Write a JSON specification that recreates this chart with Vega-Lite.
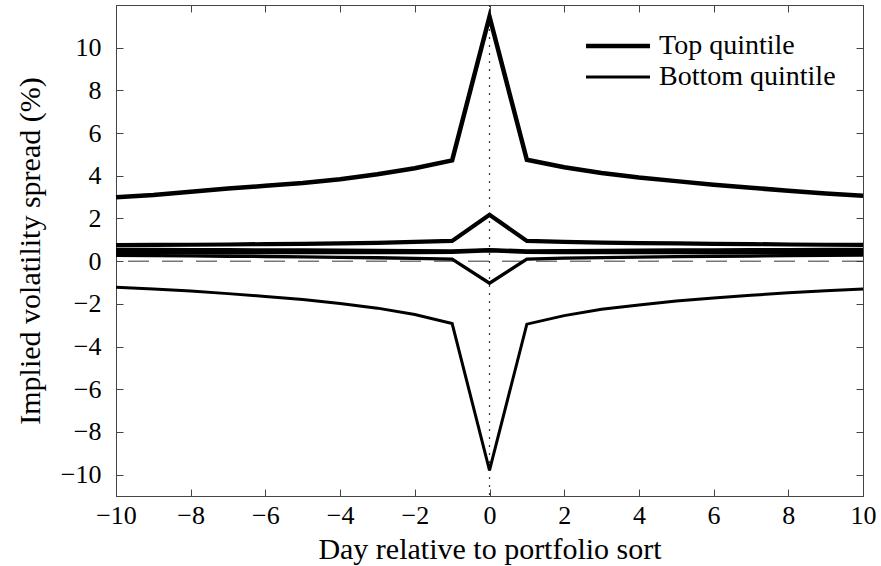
{
  "$schema": "https://vega.github.io/schema/vega-lite/v6.json",
  "autosize": "none",
  "width": 747,
  "height": 491,
  "padding": {"left": 116, "top": 5, "right": 18, "bottom": 70},
  "background": "white",
  "config": {
    "font": "Liberation Serif, DejaVu Serif, serif",
    "view": {"stroke": "#444"},
    "axis": {
      "labelFont": "Liberation Serif, DejaVu Serif, serif",
      "labelFontSize": 26,
      "labelColor": "black",
      "titleFont": "Liberation Serif, DejaVu Serif, serif",
      "titleFontSize": 30,
      "titleFontWeight": "normal",
      "titleColor": "black",
      "domainColor": "#444",
      "tickColor": "#444",
      "tickSize": -7,
      "grid": false
    },
    "legend": {
      "labelFont": "Liberation Serif, DejaVu Serif, serif",
      "labelFontSize": 28,
      "labelColor": "black",
      "labelLimit": 400
    }
  },
  "layer": [
    {
      "data": {"values": [{"v": 0}]},
      "mark": {"type": "rule", "color": "#333", "strokeWidth": 1, "strokeDash": [21, 13]},
      "encoding": {
        "y": {"field": "v", "type": "quantitative", "scale": {"domain": [-11, 12], "nice": false},
          "axis": {"orient": "right", "labels": false, "title": null, "values": [-10, -8, -6, -4, -2, 0, 2, 4, 6, 8, 10]}}
      }
    },
    {
      "data": {"values": [{"v": 0}]},
      "mark": {"type": "rule", "color": "#333", "strokeWidth": 1.2, "strokeDash": [2, 6]},
      "encoding": {
        "x": {"field": "v", "type": "quantitative", "scale": {"domain": [-10, 10], "nice": false},
          "axis": {"orient": "top", "labels": false, "title": null, "values": [-10, -8, -6, -4, -2, 0, 2, 4, 6, 8, 10]}}
      }
    },
    {
      "data": {"values": [
        {"s": "Top quintile", "d": -10, "y": 3.0}, {"s": "Top quintile", "d": -9, "y": 3.1}, {"s": "Top quintile", "d": -8, "y": 3.25}, {"s": "Top quintile", "d": -7, "y": 3.4}, {"s": "Top quintile", "d": -6, "y": 3.53}, {"s": "Top quintile", "d": -5, "y": 3.66}, {"s": "Top quintile", "d": -4, "y": 3.84}, {"s": "Top quintile", "d": -3, "y": 4.07}, {"s": "Top quintile", "d": -2, "y": 4.35}, {"s": "Top quintile", "d": -1, "y": 4.72}, {"s": "Top quintile", "d": 0, "y": 11.45}, {"s": "Top quintile", "d": 1, "y": 4.75}, {"s": "Top quintile", "d": 2, "y": 4.4}, {"s": "Top quintile", "d": 3, "y": 4.13}, {"s": "Top quintile", "d": 4, "y": 3.92}, {"s": "Top quintile", "d": 5, "y": 3.75}, {"s": "Top quintile", "d": 6, "y": 3.58}, {"s": "Top quintile", "d": 7, "y": 3.44}, {"s": "Top quintile", "d": 8, "y": 3.3}, {"s": "Top quintile", "d": 9, "y": 3.17}, {"s": "Top quintile", "d": 10, "y": 3.07},
        {"s": "Top quintile 2", "d": -10, "y": 0.75}, {"s": "Top quintile 2", "d": -9, "y": 0.76}, {"s": "Top quintile 2", "d": -8, "y": 0.77}, {"s": "Top quintile 2", "d": -7, "y": 0.78}, {"s": "Top quintile 2", "d": -6, "y": 0.8}, {"s": "Top quintile 2", "d": -5, "y": 0.81}, {"s": "Top quintile 2", "d": -4, "y": 0.83}, {"s": "Top quintile 2", "d": -3, "y": 0.86}, {"s": "Top quintile 2", "d": -2, "y": 0.9}, {"s": "Top quintile 2", "d": -1, "y": 0.95}, {"s": "Top quintile 2", "d": 0, "y": 2.17}, {"s": "Top quintile 2", "d": 1, "y": 0.95}, {"s": "Top quintile 2", "d": 2, "y": 0.9}, {"s": "Top quintile 2", "d": 3, "y": 0.87}, {"s": "Top quintile 2", "d": 4, "y": 0.85}, {"s": "Top quintile 2", "d": 5, "y": 0.83}, {"s": "Top quintile 2", "d": 6, "y": 0.81}, {"s": "Top quintile 2", "d": 7, "y": 0.8}, {"s": "Top quintile 2", "d": 8, "y": 0.78}, {"s": "Top quintile 2", "d": 9, "y": 0.77}, {"s": "Top quintile 2", "d": 10, "y": 0.76},
        {"s": "Top quintile 3", "d": -10, "y": 0.4}, {"s": "Top quintile 3", "d": -9, "y": 0.4}, {"s": "Top quintile 3", "d": -8, "y": 0.4}, {"s": "Top quintile 3", "d": -7, "y": 0.4}, {"s": "Top quintile 3", "d": -6, "y": 0.41}, {"s": "Top quintile 3", "d": -5, "y": 0.41}, {"s": "Top quintile 3", "d": -4, "y": 0.41}, {"s": "Top quintile 3", "d": -3, "y": 0.42}, {"s": "Top quintile 3", "d": -2, "y": 0.42}, {"s": "Top quintile 3", "d": -1, "y": 0.43}, {"s": "Top quintile 3", "d": 0, "y": 0.5}, {"s": "Top quintile 3", "d": 1, "y": 0.43}, {"s": "Top quintile 3", "d": 2, "y": 0.42}, {"s": "Top quintile 3", "d": 3, "y": 0.42}, {"s": "Top quintile 3", "d": 4, "y": 0.41}, {"s": "Top quintile 3", "d": 5, "y": 0.41}, {"s": "Top quintile 3", "d": 6, "y": 0.41}, {"s": "Top quintile 3", "d": 7, "y": 0.4}, {"s": "Top quintile 3", "d": 8, "y": 0.4}, {"s": "Top quintile 3", "d": 9, "y": 0.4}, {"s": "Top quintile 3", "d": 10, "y": 0.4},
        {"s": "Bottom quintile 3", "d": -10, "y": 0.54}, {"s": "Bottom quintile 3", "d": -9, "y": 0.54}, {"s": "Bottom quintile 3", "d": -8, "y": 0.53}, {"s": "Bottom quintile 3", "d": -7, "y": 0.53}, {"s": "Bottom quintile 3", "d": -6, "y": 0.52}, {"s": "Bottom quintile 3", "d": -5, "y": 0.52}, {"s": "Bottom quintile 3", "d": -4, "y": 0.51}, {"s": "Bottom quintile 3", "d": -3, "y": 0.5}, {"s": "Bottom quintile 3", "d": -2, "y": 0.49}, {"s": "Bottom quintile 3", "d": -1, "y": 0.48}, {"s": "Bottom quintile 3", "d": 0, "y": 0.53}, {"s": "Bottom quintile 3", "d": 1, "y": 0.48}, {"s": "Bottom quintile 3", "d": 2, "y": 0.49}, {"s": "Bottom quintile 3", "d": 3, "y": 0.5}, {"s": "Bottom quintile 3", "d": 4, "y": 0.51}, {"s": "Bottom quintile 3", "d": 5, "y": 0.52}, {"s": "Bottom quintile 3", "d": 6, "y": 0.52}, {"s": "Bottom quintile 3", "d": 7, "y": 0.53}, {"s": "Bottom quintile 3", "d": 8, "y": 0.53}, {"s": "Bottom quintile 3", "d": 9, "y": 0.54}, {"s": "Bottom quintile 3", "d": 10, "y": 0.54},
        {"s": "Bottom quintile 2", "d": -10, "y": 0.27}, {"s": "Bottom quintile 2", "d": -9, "y": 0.26}, {"s": "Bottom quintile 2", "d": -8, "y": 0.25}, {"s": "Bottom quintile 2", "d": -7, "y": 0.23}, {"s": "Bottom quintile 2", "d": -6, "y": 0.22}, {"s": "Bottom quintile 2", "d": -5, "y": 0.2}, {"s": "Bottom quintile 2", "d": -4, "y": 0.18}, {"s": "Bottom quintile 2", "d": -3, "y": 0.16}, {"s": "Bottom quintile 2", "d": -2, "y": 0.13}, {"s": "Bottom quintile 2", "d": -1, "y": 0.1}, {"s": "Bottom quintile 2", "d": 0, "y": -1.03}, {"s": "Bottom quintile 2", "d": 1, "y": 0.1}, {"s": "Bottom quintile 2", "d": 2, "y": 0.14}, {"s": "Bottom quintile 2", "d": 3, "y": 0.17}, {"s": "Bottom quintile 2", "d": 4, "y": 0.19}, {"s": "Bottom quintile 2", "d": 5, "y": 0.21}, {"s": "Bottom quintile 2", "d": 6, "y": 0.23}, {"s": "Bottom quintile 2", "d": 7, "y": 0.24}, {"s": "Bottom quintile 2", "d": 8, "y": 0.26}, {"s": "Bottom quintile 2", "d": 9, "y": 0.27}, {"s": "Bottom quintile 2", "d": 10, "y": 0.28},
        {"s": "Bottom quintile", "d": -10, "y": -1.22}, {"s": "Bottom quintile", "d": -9, "y": -1.3}, {"s": "Bottom quintile", "d": -8, "y": -1.4}, {"s": "Bottom quintile", "d": -7, "y": -1.52}, {"s": "Bottom quintile", "d": -6, "y": -1.65}, {"s": "Bottom quintile", "d": -5, "y": -1.8}, {"s": "Bottom quintile", "d": -4, "y": -1.98}, {"s": "Bottom quintile", "d": -3, "y": -2.2}, {"s": "Bottom quintile", "d": -2, "y": -2.5}, {"s": "Bottom quintile", "d": -1, "y": -2.92}, {"s": "Bottom quintile", "d": 0, "y": -9.8}, {"s": "Bottom quintile", "d": 1, "y": -2.95}, {"s": "Bottom quintile", "d": 2, "y": -2.55}, {"s": "Bottom quintile", "d": 3, "y": -2.25}, {"s": "Bottom quintile", "d": 4, "y": -2.05}, {"s": "Bottom quintile", "d": 5, "y": -1.87}, {"s": "Bottom quintile", "d": 6, "y": -1.72}, {"s": "Bottom quintile", "d": 7, "y": -1.6}, {"s": "Bottom quintile", "d": 8, "y": -1.48}, {"s": "Bottom quintile", "d": 9, "y": -1.38}, {"s": "Bottom quintile", "d": 10, "y": -1.3}
      ]},
      "mark": {"type": "line", "color": "black"},
      "encoding": {
        "x": {"field": "d", "type": "quantitative", "scale": {"domain": [-10, 10], "nice": false},
          "axis": {"orient": "bottom", "title": "Day relative to portfolio sort", "values": [-10, -8, -6, -4, -2, 0, 2, 4, 6, 8, 10], "labelPadding": 13, "titlePadding": 6, "labelFlush": false}},
        "y": {"field": "y", "type": "quantitative", "scale": {"domain": [-11, 12], "nice": false},
          "axis": {"orient": "left", "title": "Implied volatility spread (%)", "values": [-10, -8, -6, -4, -2, 0, 2, 4, 6, 8, 10], "labelPadding": 22, "titlePadding": 15}},
        "detail": {"field": "s", "type": "nominal"},
        "strokeWidth": {"field": "s", "type": "nominal",
          "scale": {"domain": ["Top quintile", "Top quintile 2", "Top quintile 3", "Bottom quintile 3", "Bottom quintile 2", "Bottom quintile"], "range": [4.5, 3, 2.3, 0.8, 1, 0.8]},
          "legend": {"values": ["Top quintile", "Bottom quintile"], "title": null, "orient": "top-right", "offset": 27, "padding": 0, "symbolType": "M-4,0H4", "symbolSize": 256, "symbolStrokeColor": "black", "symbolFillColor": "transparent", "labelOffset": 27, "rowPadding": 3}}
      }
    }
  ],
  "resolve": {"axis": {"x": "independent", "y": "independent"}}
}
